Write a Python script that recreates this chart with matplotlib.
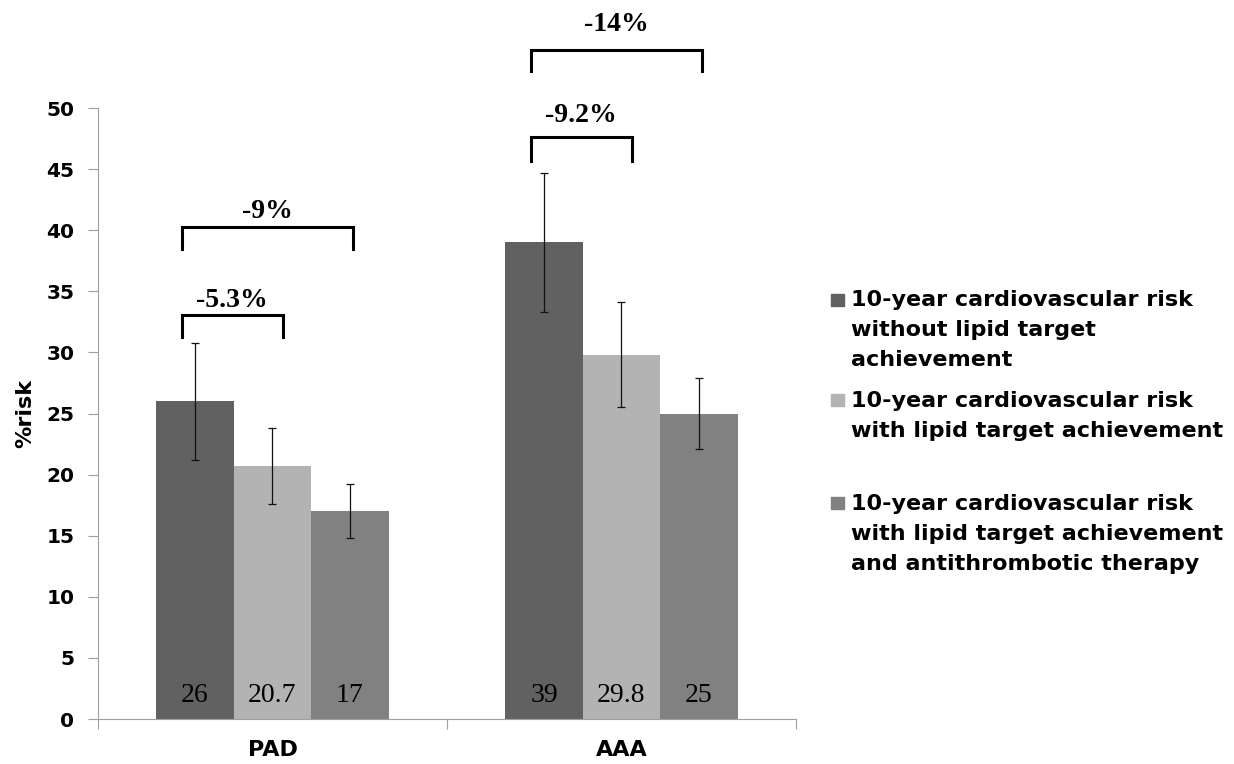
import matplotlib.pyplot as plt
from matplotlib.patches import Rectangle

# data
categories = ["PAD", "AAA"]
series_labels = [
    "10-year cardiovascular risk\nwithout lipid target\nachievement",
    "10-year cardiovascular risk\nwith lipid target achievement",
    "10-year cardiovascular risk\nwith lipid target achievement\nand antithrombotic therapy",
]
no_target = [26, 39]
with_target = [20.7, 29.8]
with_target_at = [17, 25]
err_no_target = [4.8, 5.7]
err_with_target = [3.1, 4.3]
err_with_target_at = [2.2, 2.9]
value_labels = [["26", "39"], ["20.7", "29.8"], ["17", "25"]]
diff_small = ["-5.3%", "-9.2%"]
diff_big = ["-9%", "-14%"]
colors = ["#616161", "#b3b3b3", "#818181"]

series = [no_target, with_target, with_target_at]
errors = [err_no_target, err_with_target, err_with_target_at]

fig = plt.figure(figsize=(12.34, 7.64), dpi=100)
ax = fig.add_axes([0.0794, 0.0589, 0.5656, 0.7997])

width = 0.222
offsets = [-width, 0, width]
x = range(len(categories))

for s, vals in enumerate(series):
    xs = [i + offsets[s] for i in x]
    ax.bar(xs, vals, width=width, color=colors[s], zorder=2)
    ax.errorbar(xs, vals, yerr=errors[s], fmt="none", ecolor="#111111",
                elinewidth=0.9, capsize=3.2, capthick=0.9, zorder=3)
    for xi, lab in zip(xs, value_labels[s]):
        ax.text(xi, 1.4, lab, ha="center", va="baseline", fontsize=20,
                family="Liberation Serif", color="black", zorder=4)

# brackets: top of bracket, leg end, label baseline
small_top = [33.06, 47.6]
small_leg = [31.26, 45.7]
small_txt = [33.7, 48.85]
big_top = [40.26, 54.75]
big_leg = [38.5, 53.0]
big_txt = [41.0, 56.3]
for i in x:
    xl = i - 0.26
    xm = i + 0.03
    xr = i + 0.23
    ax.plot([xl, xl, xm, xm], [small_leg[i], small_top[i], small_top[i], small_leg[i]],
            color="black", lw=2.2, clip_on=False, solid_joinstyle="miter")
    ax.plot([xl, xl, xr, xr], [big_leg[i], big_top[i], big_top[i], big_leg[i]],
            color="black", lw=2.2, clip_on=False, solid_joinstyle="miter")
    ax.text((xl + xm) / 2, small_txt[i], diff_small[i], ha="center", va="baseline",
            fontsize=20, fontweight="bold", family="Liberation Serif",
            clip_on=False)
    ax.text((xl + xr) / 2, big_txt[i], diff_big[i], ha="center", va="baseline",
            fontsize=20, fontweight="bold", family="Liberation Serif",
            clip_on=False)

ax.set_xlim(-0.5, 1.5)
ax.set_ylim(0, 50)
ax.set_yticks(range(0, 51, 5))
ax.set_xticks([-0.5, 0.5, 1.5])
ax.set_xticklabels([])
ax.set_xticks(list(x), minor=True)
ax.set_xticklabels(categories, minor=True, fontsize=16, fontweight="bold",
                   family="DejaVu Sans")
ax.tick_params(axis="x", which="minor", length=0, pad=15)
ax.tick_params(axis="x", which="major", length=7, color="#a0a0a0")
ax.tick_params(axis="y", length=7, color="#a0a0a0", labelsize=14.5, pad=10)
for t in ax.get_yticklabels():
    t.set_fontweight("bold")
    t.set_family("DejaVu Sans")
for sp in ["top", "right"]:
    ax.spines[sp].set_visible(False)
for sp in ["left", "bottom"]:
    ax.spines[sp].set_color("#a0a0a0")
ax.set_ylabel("%risk", fontsize=16, fontweight="bold", family="DejaVu Sans")
ax.yaxis.set_label_coords(-0.09, 0.5)

# legend drawn by hand to keep the Excel-style spacing
legend_base = [306, 407, 510]
legend_sq = [300, 400, 503]
line_gap = 30
for c, lab, yb, ys in zip(colors, series_labels, legend_base, legend_sq):
    fig.patches.append(Rectangle((831 / 1234, 1 - (ys + 6) / 764), 13 / 1234, 12 / 764,
                                 transform=fig.transFigure, color=c))
    for k, line in enumerate(lab.split("\n")):
        fig.text(851 / 1234, 1 - (yb + k * line_gap) / 764, line, ha="left",
                 va="baseline", fontsize=16, fontweight="bold", family="DejaVu Sans")

fig.savefig("out.png", dpi=100)
